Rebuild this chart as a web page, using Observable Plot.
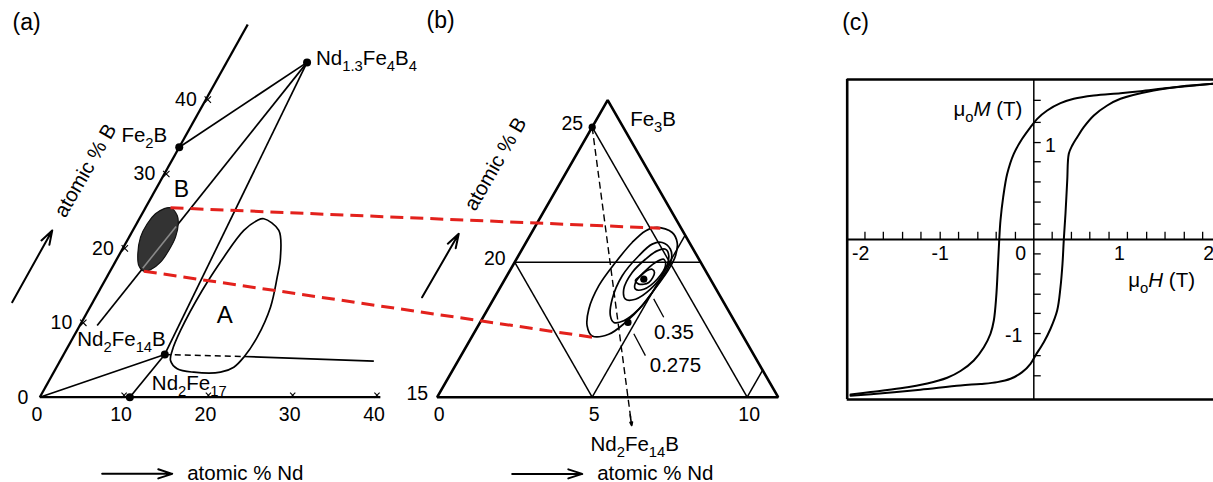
<!DOCTYPE html>
<html><head><meta charset="utf-8">
<script src="https://cdn.jsdelivr.net/npm/d3@7"></script>
<script src="https://cdn.jsdelivr.net/npm/@observablehq/plot@0.6"></script>
<style>
html,body{margin:0;padding:0;background:#fff;overflow:hidden;}
#fig{position:relative;width:1213px;height:482px;}
#fig svg{position:absolute;top:0;overflow:visible;}
</style></head><body><div id="fig"></div>
<script>
// ---------------- Panel (a): Fe–Nd–B section (atomic % Nd, atomic % B) ----------------
const axesA = [[0, 0, 40.4, 0], [0, 0, 0, 50.1]];                       // Nd axis, B axis
const phaseA = [
  {name: "Fe_{2}B", nd: 0, b: 33.6},
  {name: "Nd_{1.3}Fe_{4}B_{4}", nd: 9.55, b: 45.0},
  {name: "Nd_{2}Fe_{14}B", nd: 12.0, b: 5.74},
  {name: "Nd_{2}Fe_{17}", nd: 10.68, b: 0}
];
const tiesA = [
  [0, 33.6, 9.55, 45.0], [2.06, 9.64, 9.55, 45.0], [12.0, 5.74, 9.55, 45.0],
  [0, 0, 12.0, 5.74], [10.68, 0, 12.0, 5.74], [21.51, 5.47, 37.24, 4.84]
];
const dashedA = [[12.0, 5.74, 21.51, 5.47]];
const loopA = [[14.77,23.98],[17.32,22.41],[19.28,18.82],[20.22,16.13],[21.41,12.1],[21.82,8.07],[21.55,5.38],[21.03,4.03],[19.78,3.36],[16.61,3.36],[14.42,3.82],[13.08,4.93],[12.62,6.28],[12.28,8.97],[12.2,14.34],[12.56,18.82],[13.17,22.41],[14.1,23.75]];
const ellipseA = [[2.97,25.46],[4.28,24.42],[4.95,23.31],[5.51,21.51],[5.59,19.72],[5.39,18.15],[4.7,17.12],[4.0,16.94],[3.03,17.7],[2.14,19.27],[1.36,21.51],[1.27,23.31],[1.58,24.65],[2.24,25.32]];
const stripeA = [[3.68, 17.33, 4.87, 22.95]];
const ndTicksA = [10, 20, 30, 40];
const ndLabelsA = [0, 10, 20, 30, 40];
const bTicksA = [10, 20, 30, 40];

// ---------------- Panel (b): enlarged section ----------------
const triangleB = [[0, 15], [0, 26], [11, 15]];
const linesB = [[0, 20, 6, 20], [0, 20, 5, 15], [5, 15, 5, 21], [0, 25, 10, 15], [10, 15, 10, 16]];
const dashedB = [[0, 25, 6.8, 13.95]];
const arrowHeadB = [[6.55, 14.35, 6.8, 13.95]];
const dotsB = [[0, 25], [4.48, 19.37], [4.77, 17.77]];
const contour1 = [[3.954,21.29],[4.531,21.1],[4.877,20.73],[5.069,20.24],[5.101,19.74],[5.034,19.13],[4.92,18.39],[4.69,17.77],[4.369,17.33],[3.863,17.27],[3.517,17.64],[3.261,18.26],[3.15,19.13],[3.257,19.99],[3.425,20.73],[3.638,21.16]];
const contour2 = [[4.393,20.73],[4.785,20.48],[5.003,20.11],[5.055,19.62],[4.996,18.88],[4.874,18.26],[4.604,17.83],[4.314,17.77],[4.083,18.01],[3.83,18.63],[3.72,19.5],[3.885,20.24],[4.102,20.67]];
const contour3 = [[4.624,20.48],[4.852,20.24],[5.0,19.62],[4.881,19.0],[4.582,18.63],[4.259,18.63],[4.019,19.0],[3.98,19.62],[4.164,20.11],[4.386,20.42]];
const contour4 = [[4.754,20.11],[4.931,19.87],[4.912,19.37],[4.665,19.0],[4.397,19.0],[4.273,19.25],[4.355,19.62],[4.547,19.99]];
const contour5 = [[4.565,19.74],[4.7,19.62],[4.702,19.25],[4.41,19.19],[4.236,19.32],[4.31,19.5],[4.428,19.69]];
const pointersB = [[5.165, 18.64, 5.828, 17.96], [5.168, 17.35, 5.947, 16.54]];
const contourLabelsB = [{t: "0.35", nd: 6.43, b: 17.41}, {t: "0.275", nd: 7.1, b: 16.17}];
const ndLabelsB = [0, 5, 10];
const bLabelsB = [15, 20, 25];

// red dashed connectors: panel (a) region B -> panel (b) outer contour
const linksAB = [{a: [2.97, 25.46], b: [4.07, 21.26]}, {a: [4.0, 16.94], b: [3.889, 17.22]}];

// ---------------- Panel (c): hysteresis loop (mu0H in T, mu0M in T) ----------------
const upperBranch = [[2.054,1.622],[1.562,1.58],[1.219,1.545],[0.991,1.524],[0.686,1.5],[0.457,1.466],[0.305,1.42],[0.153,1.344],[0.039,1.257],[-0.038,1.17],[-0.133,1.049],[-0.229,0.893],[-0.304,0.684],[-0.35,0.441],[-0.381,0.198],[-0.395,0],[-0.411,-0.289],[-0.43,-0.601],[-0.457,-0.844],[-0.495,-0.982],[-0.571,-1.122],[-0.686,-1.26],[-0.838,-1.37],[-0.99,-1.44],[-1.218,-1.5],[-1.523,-1.55],[-1.866,-1.59],[-2.095,-1.615]];
const lowerBranch = [[-2.095,-1.628],[-1.7,-1.6],[-1.296,-1.565],[-0.838,-1.52],[-0.609,-1.505],[-0.418,-1.486],[-0.266,-1.451],[-0.133,-1.382],[-0.038,-1.295],[0.019,-1.208],[0.114,-1.07],[0.191,-0.93],[0.267,-0.74],[0.305,-0.497],[0.328,-0.253],[0.343,0],[0.362,0.268],[0.382,0.615],[0.4,0.893],[0.439,0.979],[0.496,1.066],[0.571,1.17],[0.686,1.292],[0.839,1.396],[0.991,1.466],[1.371,1.552],[1.677,1.594],[2.054,1.622]];
const hTicks = [-1.93,-1.72,-1.5,-1.29,-1.07,-0.86,-0.64,-0.43,-0.21,0.21,0.43,0.64,0.86,1.07,1.29,1.5,1.72,1.93];
const mTicks = [-1.42,-1.21,-0.98,-0.77,-0.57,-0.36,-0.15,0.16,0.39,0.6,0.81,1.01,1.22,1.45];
const hTickLabels = [{t: "-2", h: -1.98}, {t: "-1", h: -1.07}, {t: "0", h: -0.15}, {t: "1", h: 0.98}, {t: "2", h: 2.0}];
const mTickLabels = [{t: "1", h: 0.19, m: 0.98}, {t: "-1", h: -0.23, m: -1.0}];
const hDomain = [-2.133, 2.054];
const mDomain = [-1.667, 1.667];

// ---------------- projections (ternary sections into the shared frame) ----------------
const SHEAR_A = 0.4923;                 // slant of the B axis in panel (a)
const ax = (nd, b) => nd + SHEAR_A * b;
const B_ORIGIN = 47.14, B_KU = 3.677, B_KV = 3.629, B_BASE = 15;   // panel (b) inset placement / magnification
const bx = (nd, b) => B_ORIGIN + B_KU * (nd + 0.5 * (b - B_BASE));
const by = (nd, b) => B_KV * (b - B_BASE);

const PA = {x: d => ax(d[0], d[1]), y: d => d[1]};
const LA = {x1: d => ax(d[0], d[1]), y1: d => d[1], x2: d => ax(d[2], d[3]), y2: d => d[3]};
const PB = {x: d => bx(d[0], d[1]), y: d => by(d[0], d[1])};
const LB = {x1: d => bx(d[0], d[1]), y1: d => by(d[0], d[1]), x2: d => bx(d[2], d[3]), y2: d => by(d[2], d[3])};

const FONT = '"Liberation Sans", Arial, Helvetica, sans-serif';
const LBL = 20.5, TCK = 19.5;
const phaseOffsets = [[-12, -12, "end"], [9, -4, "start"], [1, -15, "end"], [22, -14, "start"]];

const marksAB = [
  // panel (a)
  Plot.link(axesA, {...LA, stroke: "#000", strokeWidth: 2.3}),
  Plot.link(tiesA, {...LA, stroke: "#000", strokeWidth: 1.7}),
  Plot.link(dashedA, {...LA, stroke: "#000", strokeWidth: 1.5, strokeDasharray: "6,4"}),
  Plot.line(loopA, {...PA, curve: "catmull-rom-closed", stroke: "#000", strokeWidth: 1.7}),
  Plot.line(ellipseA, {...PA, curve: "catmull-rom-closed", fill: "#333", stroke: "#111", strokeWidth: 1.2}),
  Plot.link(stripeA, {...LA, stroke: "#8a8a8a", strokeWidth: 1.6}),
  Plot.dot(bTicksA, {x: d => ax(0, d), y: d => d, symbol: "times", r: 3, dx: 2, stroke: "#000", strokeWidth: 1.1}),
  Plot.dot(ndTicksA, {x: d => ax(d, 0), y: 0, symbol: "times", r: 2.5, dy: -2, stroke: "#000", strokeWidth: 1.1}),
  Plot.dot(phaseA, {x: d => ax(d.nd, d.b), y: "b", r: 4, fill: "#000"}),
  ...phaseA.map((p, i) => Plot.text([p], {x: d => ax(d.nd, d.b), y: "b", text: "name", dx: phaseOffsets[i][0], dy: phaseOffsets[i][1], textAnchor: phaseOffsets[i][2], fontSize: LBL})),
  Plot.text(ndLabelsA, {x: d => ax(d, 0), y: 0, text: d => String(d), dy: 18, dx: -3, fontSize: TCK}),
  Plot.text([0], {x: 0, y: 0, text: d => String(d), dx: -17, dy: 1, fontSize: TCK}),
  Plot.text(bTicksA, {x: d => ax(0, d), y: d => d, text: d => String(d), dx: -9, textAnchor: "end", fontSize: TCK}),
  Plot.text(["B"], {x: ax(3.04, 27.92), y: 27.92, text: d => d, fontSize: 23}),
  Plot.text(["A"], {x: ax(16.5, 11.02), y: 11.02, text: d => d, fontSize: 24}),
  Plot.text(["atomic % B"], {x: ax(-9.58, 30.47), y: 30.47, text: d => d, rotate: -60, fontSize: LBL}),
  Plot.arrow([[-9.56, 12.77, -9.56, 22.41]], {...LA, stroke: "#000", strokeWidth: 2, headLength: 11, headAngle: 36}),
  Plot.arrow([[12.47, -10.3, 20.78, -10.3]], {...LA, stroke: "#000", strokeWidth: 2, headLength: 11, headAngle: 36}),
  Plot.text(["atomic % Nd"], {x: ax(22.55, -10.3), y: -10.3, text: d => d, textAnchor: "start", fontSize: LBL}),
  Plot.text(["(a)"], {frameAnchor: "top-left", text: d => d, dx: 12, dy: 22, lineAnchor: "middle", textAnchor: "start", fontSize: 23}),

  // panel (b)
  Plot.line(triangleB, {...PB, curve: "linear-closed", stroke: "#000", strokeWidth: 2.6, strokeLinejoin: "miter"}),
  Plot.link(linesB, {...LB, stroke: "#000", strokeWidth: 1.5}),
  Plot.link(dashedB, {...LB, stroke: "#000", strokeWidth: 1.4, strokeDasharray: "7,4"}),
  Plot.arrow(arrowHeadB, {...LB, stroke: "#000", strokeWidth: 1.6, headLength: 9, headAngle: 40}),
  ...[contour1, contour2, contour3, contour4, contour5].map(c => Plot.line(c, {...PB, curve: "catmull-rom-closed", stroke: "#000", strokeWidth: 1.7})),
  Plot.link(pointersB, {...LB, stroke: "#000", strokeWidth: 1.3}),
  Plot.dot(dotsB, {...PB, r: 3.6, fill: "#000"}),
  Plot.text(contourLabelsB, {x: d => bx(d.nd, d.b), y: d => by(d.nd, d.b), text: "t", fontSize: LBL}),
  Plot.text(ndLabelsB, {x: d => bx(d, 15), y: d => by(d, 15), text: d => String(d), dy: 18, dx: 2, fontSize: TCK}),
  Plot.text(bLabelsB, {x: d => bx(0, d), y: d => by(0, d), text: d => String(d), dx: -9, dy: -3, textAnchor: "end", fontSize: TCK}),
  Plot.text(["Fe_{3}B"], {x: bx(0, 25), y: by(0, 25), text: d => d, dx: 38, dy: -8, textAnchor: "start", fontSize: LBL}),
  Plot.text(["Nd_{2}Fe_{14}B"], {x: bx(6.8, 13.95), y: by(6.8, 13.95), text: d => d, dx: 3, dy: 19, fontSize: LBL}),
  Plot.text(["atomic % B"], {x: bx(-2.44, 23.64), y: by(-2.44, 23.64), text: d => d, rotate: -60, fontSize: LBL}),
  Plot.arrow([[-2.336, 18.70, -2.33, 21.05]], {...LB, stroke: "#000", strokeWidth: 2, headLength: 11, headAngle: 36}),
  Plot.arrow([[3.84, 12.16, 6.10, 12.16]], {...LB, stroke: "#000", strokeWidth: 2, headLength: 11, headAngle: 36}),
  Plot.text(["atomic % Nd"], {x: bx(6.58, 12.16), y: by(6.58, 12.16), text: d => d, textAnchor: "start", fontSize: LBL}),
  Plot.text(["(b)"], {frameAnchor: "top-left", text: d => d, dx: 426, dy: 20, lineAnchor: "middle", textAnchor: "start", fontSize: 23}),

  // connectors
  Plot.link(linksAB, {x1: d => ax(d.a[0], d.a[1]), y1: d => d.a[1], x2: d => bx(d.b[0], d.b[1]), y2: d => by(d.b[0], d.b[1]), stroke: "#e3211c", strokeWidth: 3, strokeDasharray: "13,7"})
];

const plotAB = Plot.plot({
  width: 820, height: 482, margin: 0,
  x: {domain: [-4.662, 92.61], axis: null},
  y: {domain: [-11.465, 53.32], axis: null},
  style: {fontFamily: FONT, background: "transparent", overflow: "visible", color: "#000"},
  marks: marksAB
});

const plotC = Plot.plot({
  width: 393, height: 482, marginLeft: 26.7, marginRight: 0, marginTop: 79, marginBottom: 83,
  x: {domain: hDomain, axis: null},
  y: {domain: mDomain, axis: null},
  style: {fontFamily: FONT, background: "transparent", overflow: "visible", color: "#000"},
  marks: [
    Plot.ruleY([mDomain[0], mDomain[1]], {stroke: "#000", strokeWidth: 2.6}),
    Plot.ruleX([hDomain[0]], {stroke: "#000", strokeWidth: 2.6}),
    Plot.ruleY([0], {stroke: "#000", strokeWidth: 2}),
    Plot.ruleX([0], {stroke: "#000", strokeWidth: 1.5}),
    Plot.ruleX(hTicks, {x: d => d, y1: 0, y2: 0.075, stroke: "#000", strokeWidth: 1.3}),
    Plot.ruleY(mTicks, {y: d => d, x1: 0, x2: 0.085, stroke: "#000", strokeWidth: 1.3}),
    Plot.line(upperBranch, {x: d => d[0], y: d => d[1], curve: "catmull-rom", stroke: "#000", strokeWidth: 2}),
    Plot.line(lowerBranch, {x: d => d[0], y: d => d[1], curve: "catmull-rom", stroke: "#000", strokeWidth: 2}),
    Plot.text(hTickLabels, {x: "h", y: -0.146, text: "t", fontSize: TCK}),
    Plot.text(mTickLabels, {x: "h", y: "m", text: "t", fontSize: TCK}),
    Plot.text(["μ_{o}*M* (T)"], {x: -0.13, y: 1.36, text: d => d, textAnchor: "end", fontSize: LBL}),
    Plot.text(["μ_{o}*H* (T)"], {x: 1.08, y: -0.43, text: d => d, textAnchor: "start", fontSize: LBL}),
    Plot.text(["(c)"], {frameAnchor: "top-left", text: d => d, dx: -5, dy: -57, lineAnchor: "middle", textAnchor: "start", fontSize: 23})
  ]
});

const fig = document.getElementById("fig");
plotAB.style.left = "0px";
plotC.style.left = "820px";
fig.appendChild(plotAB);
fig.appendChild(plotC);

// rich text: _{...} subscript, *...* italic
function richify(root) {
  const NS = "http://www.w3.org/2000/svg";
  root.querySelectorAll("text").forEach(t => {
    const s = t.textContent;
    if (!/_\{|\*/.test(s)) return;
    const fs = parseFloat(getComputedStyle(t).fontSize) || 16;
    const re = /_\{([^}]*)\}|\*([^*]+)\*|([^_*]+)/g;
    let m, shift = 0;
    while (t.firstChild) t.removeChild(t.firstChild);
    while ((m = re.exec(s))) {
      const ts = document.createElementNS(NS, "tspan");
      if (m[1] !== undefined) {
        ts.textContent = m[1];
        ts.setAttribute("font-size", (fs * 0.72).toFixed(1));
        const target = fs * 0.3;
        ts.setAttribute("dy", (target - shift).toFixed(2));
        shift = target;
      } else {
        ts.textContent = m[2] !== undefined ? m[2] : m[3];
        if (m[2] !== undefined) ts.setAttribute("font-style", "italic");
        if (shift) { ts.setAttribute("dy", (-shift).toFixed(2)); shift = 0; }
      }
      t.appendChild(ts);
    }
  });
}
richify(fig);
</script></body></html>
